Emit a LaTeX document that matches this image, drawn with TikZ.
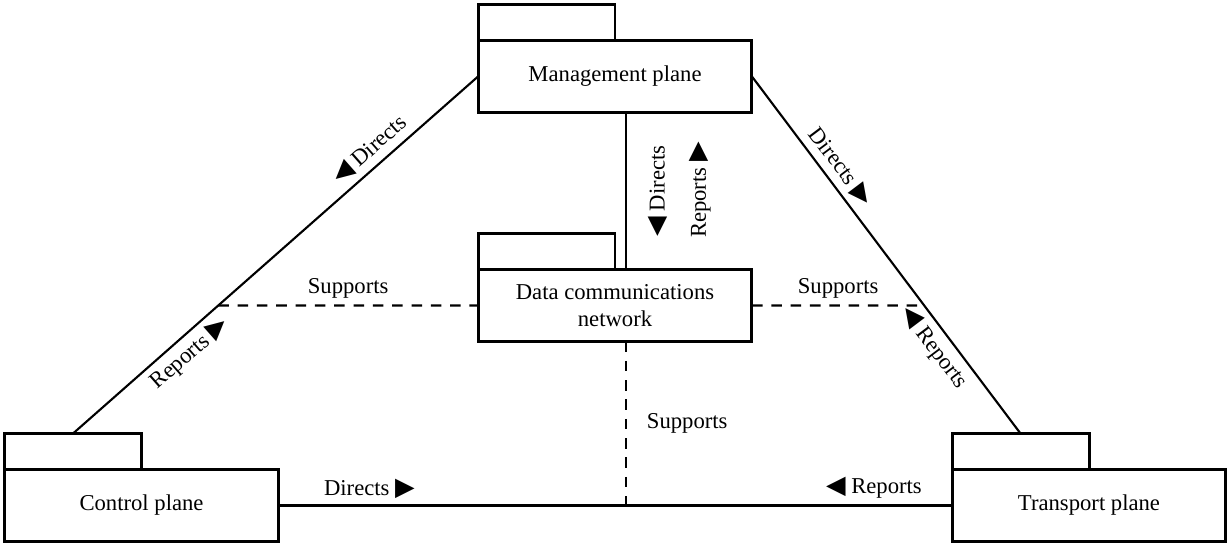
\documentclass[tikz,border=0pt]{standalone}
\usepackage{fontspec}
\setmainfont{Liberation Serif}
\newfontfamily\symfont{DejaVu Sans}
\usetikzlibrary{positioning,calc}
\newcommand{\tright}{{\symfont\fontsize{14.5}{15}\selectfont ▶}}
\newcommand{\tleft}{{\symfont\fontsize{14.5}{15}\selectfont ◀}}

\begin{document}
\begin{tikzpicture}[x=0.02cm, y=-0.02cm,
    font=\fontsize{12.9}{15}\selectfont,
    plane/.style={draw, line width=1.7pt, minimum width=5.48cm, minimum height=1.44cm, inner sep=0pt, outer sep=0pt, align=center},
    tab/.style={draw, line width=1.7pt, minimum width=2.74cm, minimum height=0.72cm, inner sep=0pt, outer sep=0pt, anchor=south west},
    link/.style={line width=1.2pt},
    heavy/.style={line width=1.7pt},
    support/.style={dashed, line width=1.2pt, dash pattern=on 6pt off 5pt}]
    \useasboundingbox (0,0) rectangle (1228,544);

    % Planes
    \node[plane] (mgmt) at (615,76.5) {Management plane};
    \node[tab] (mgmttab) at (mgmt.north west) {};
    \node[plane] (dcn) at (615,305.5) {Data communications\\network};
    \node[tab] (dcntab) at (dcn.north west) {};
    \node[plane] (ctrl) at (141.5,505.5) {Control plane};
    \node[tab] (ctrltab) at (ctrl.north west) {};
    \node[plane] (trans) at (1089,505.5) {Transport plane};
    \node[tab] (transtab) at (trans.north west) {};

    % Directs / reports
    \draw[link] (ctrltab.north) -- node[sloped, below, pos=0.26] {Reports \tright}
        node[sloped, above, pos=0.76] {\tleft\ Directs} (mgmt.west);
    \draw[link] (mgmt.east) -- node[sloped, above, pos=0.28] {Directs \tright}
        node[sloped, below, pos=0.73] {\tleft\ Reports} (transtab.north);
    \draw[heavy] ([xshift=0.22cm]mgmt.south) -- ([xshift=0.22cm]dcn.north);
    \node[rotate=90] (mdir) at (658,191) {\tleft\ Directs};
    \node[rotate=90] (mrep) at (700,190) {Reports \tright};
    \draw[heavy] (ctrl.east) -- node[above, pos=0.135] {Directs \tright}
        node[above, pos=0.884] {\tleft\ Reports} (trans.west);

    % Supports
    \coordinate (lcut) at (intersection of ctrltab.north--mgmt.west and dcn.west--dcn.east);
    \coordinate (rcut) at (intersection of mgmt.east--transtab.north and dcn.west--dcn.east);
    \draw[support] (lcut) -- node[above] {Supports} (dcn.west);
    \draw[support] (dcn.east) -- node[above] {Supports} (rcut);
    \draw[support] ([xshift=0.22cm]dcn.south) -- node[right=0.28cm] {Supports}
        ([xshift=0.22cm]dcn.south |- ctrl.east);
\end{tikzpicture}
\end{document}
